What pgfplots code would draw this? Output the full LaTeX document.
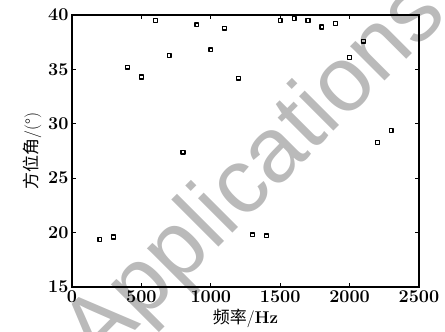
\documentclass[border=0pt]{standalone}
\usepackage{fontspec}
\usepackage{pgfplots}
\pgfplotsset{compat=1.18}
\newfontfamily\cjk{Noto Sans CJK SC}
\newfontfamily\wm{Liberation Sans}
\begin{document}
\begin{tikzpicture}
\useasboundingbox (-72pt,-45pt) rectangle (373pt,287pt);
\node[rotate=45, text=black!27, font=\fontsize{92}{92}\selectfont\wm, inner sep=0pt] at (185pt,112pt) {Applications};
\begin{axis}[
  at={(0pt,0pt)}, anchor=south west,
  scale only axis, width=347pt, height=272pt,
  xmin=0, xmax=2500, ymin=15, ymax=40,
  xtick={0,500,...,2500}, ytick={15,20,...,40},
  tick align=inside, major tick length=4pt,
  every tick/.style={black, line width=0.8pt},
  axis line style={line width=1.2pt},
  tick label style={font=\fontsize{18}{18}\selectfont\bfseries},
  /pgf/number format/assume math mode=true,
  /pgf/number format/1000 sep={},
  xlabel={{\cjk 频率}/\textbf{Hz}},
  ylabel={{\cjk 方位角}/(°)},
  label style={font=\fontsize{17}{17}\selectfont},
]
\addplot[only marks, mark=square, mark size=1.9pt, mark options={line width=1.3pt, line join=round, black}] coordinates {
(200,19.35) (300,19.6) (400,35.2) (500,34.3) (600,39.5) (700,36.3) (800,27.4)
(900,39.1) (1000,36.8) (1100,38.8) (1200,34.2) (1300,19.8) (1400,19.7)
(1500,39.5) (1600,39.7) (1700,39.5) (1800,38.9) (1900,39.2) (2000,36.1)
(2100,37.6) (2200,28.3) (2300,29.4)
};
\end{axis}
\end{tikzpicture}
\end{document}
